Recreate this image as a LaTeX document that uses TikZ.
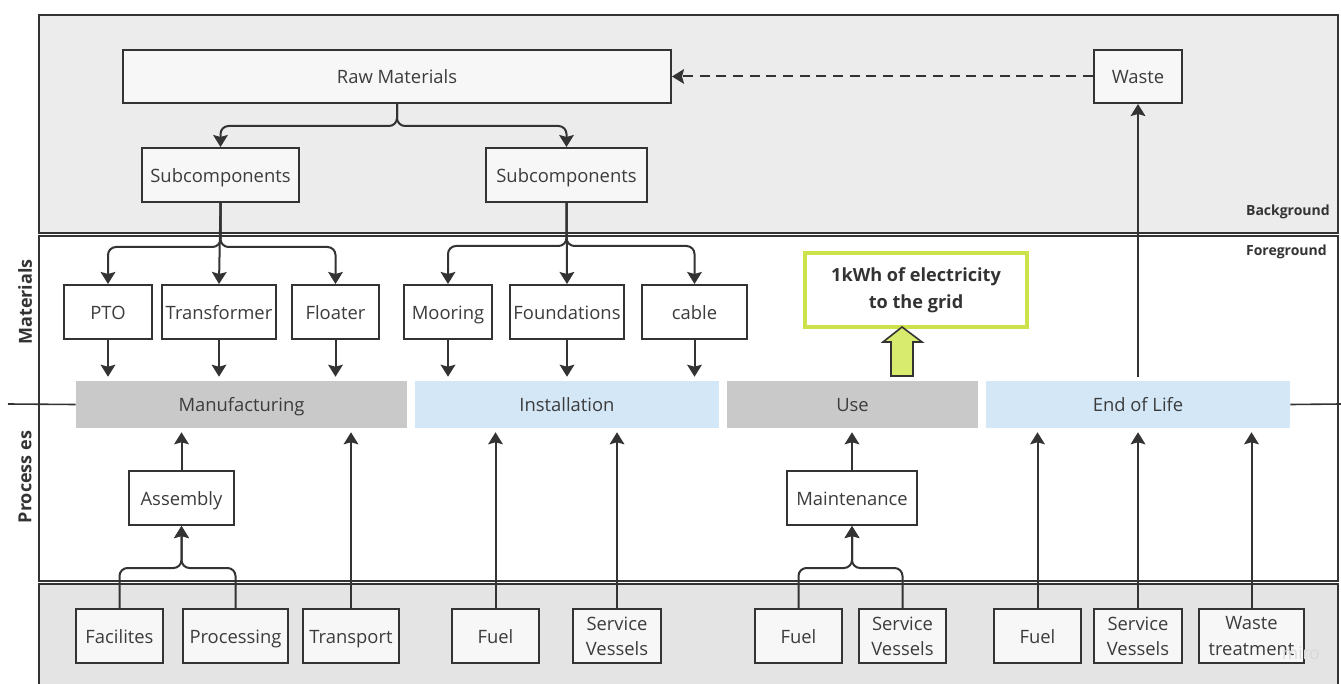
\documentclass[tikz,border=0pt]{standalone}
\usepackage{fontspec}
\setmainfont{Open Sans}
\usetikzlibrary{arrows.meta,positioning,calc}
\definecolor{bgGray}{HTML}{ECECEC}
\definecolor{botGray}{HTML}{E4E4E4}
\definecolor{boxFill}{HTML}{F7F7F7}
\definecolor{lineCol}{HTML}{333333}
\definecolor{txtCol}{HTML}{3C3C3C}
\definecolor{procGray}{HTML}{C9C9C9}
\definecolor{procBlue}{HTML}{D4E7F7}
\definecolor{limeLine}{HTML}{CDE14A}
\definecolor{limeFill}{HTML}{D9EB6F}
\tikzset{
  wh/.style 2 args={minimum width=#1*0.75pt, minimum height=#2*0.75pt},
  boxbase/.style={draw=lineCol, line width=1.5pt, fill=boxFill, inner sep=0pt, text=txtCol, align=center},
  gbox/.style={boxbase, font=\fontsize{13.8}{16}\selectfont, text height=12pt, text depth=1pt},
  wbox/.style={gbox, fill=white},
  twobox/.style={boxbase, font=\fontsize{13.8}{19}\selectfont},
  procbar/.style={draw=none, inner sep=0pt, text=txtCol, font=\fontsize{13.8}{16}\selectfont, text height=12pt, text depth=1pt},
  arr/.style={draw=lineCol, line width=1.5pt, -{Stealth[length=9pt,width=11pt,inset=1.5pt]}},
  lbl/.style={font=\bfseries\fontsize{10.5}{12}\selectfont, text=lineCol, inner sep=0pt},
  sidelbl/.style={font=\bfseries\fontsize{13.5}{16}\selectfont, text=lineCol, rotate=90, inner sep=0pt},
}
\begin{document}
\begin{tikzpicture}[x=0.75pt,y=-0.75pt]
\useasboundingbox (0,0) rectangle (1341,684);
\clip (0,0) rectangle (1341,684);
% bands
\fill[white] (0,0) rectangle (1341,684);
\draw[draw=lineCol, line width=1.8pt, fill=bgGray] (39,15) rectangle (1338,233);
\draw[draw=lineCol, line width=1.8pt, fill=white] (39,236) rectangle (1338,581);
\draw[draw=lineCol, line width=1.8pt, fill=botGray] (39,584) rectangle (1338,720);
% labels
\node[lbl, anchor=east] (bglbl) at (1330,212) {Background};
\node[lbl, anchor=east] (fglbl) at (1327,252) {Foreground};
\node[sidelbl] (matlbl) at (25,302) {Materials};
\node[sidelbl] (proclbl) at (25,477) {Process es};
% background nodes
\node[gbox, wh={548}{53}] (raw) at (397,76.5) {Raw Materials};
\node[gbox, wh={88}{53}] (waste) at (1138,76.5) {Waste};
\node[gbox, wh={157}{54}] (sub1) at (220.5,175) {Subcomponents};
\node[gbox, wh={161}{54}] (sub2) at (566.5,175) {Subcomponents};
% material row
\node[wbox, wh={88}{54}] (pto) at (108,312) {PTO};
\node[wbox, wh={114}{54}] (trans) at (219,312) {Transformer};
\node[wbox, wh={87}{54}] (floater) at (335.5,312) {Floater};
\node[wbox, wh={88}{54}] (mooring) at (448,312) {Mooring};
\node[wbox, wh={114}{54}] (found) at (567,312) {Foundations};
\node[wbox, wh={105}{54}] (cable) at (694.5,312) {cable};
% process bars
\node[procbar, fill=procGray, wh={331}{47}] (manu) at (241.5,404.5) {Manufacturing};
\node[procbar, fill=procBlue, wh={304}{47}] (inst) at (567,404.5) {Installation};
\node[procbar, fill=procGray, wh={251}{47}] (use) at (852.5,404.5) {Use};
\node[procbar, fill=procBlue, wh={304}{47}] (eol) at (1138,404.5) {End of Life};
% grid box
\node[draw=limeLine, line width=2.3pt, fill=white, wh={222}{74}, inner sep=0pt, align=center, text=lineCol, font=\bfseries\fontsize{13.6}{20}\selectfont] (grid) at (916,290) {\raisebox{-2.5pt}{1kWh of electricity}\\\raisebox{-2.5pt}{to the grid}};
% process inputs
\node[wbox, wh={105}{54}] (assembly) at (181.5,498) {Assembly};
\node[wbox, wh={130}{54}] (maint) at (852,498) {Maintenance};
\node[gbox, wh={87}{54}] (fac) at (119.5,636) {Facilites};
\node[gbox, wh={105}{54}] (proc) at (235.5,636) {Processing};
\node[gbox, wh={96}{54}] (transp) at (351,636) {Transport};
\node[gbox, wh={87}{54}] (fuel1) at (495.5,636) {Fuel};
\node[twobox, wh={88}{54}] (sv1) at (617,636) {Service\\Vessels};
\node[gbox, wh={87}{54}] (fuel2) at (798.5,636) {Fuel};
\node[twobox, wh={87}{54}] (sv2) at (902.5,636) {Service\\Vessels};
\node[gbox, wh={87}{54}] (fuel3) at (1037.5,636) {Fuel};
\node[twobox, wh={88}{54}] (sv3) at (1138,636) {Service\\Vessels};
\node[twobox, wh={105}{54}] (wt) at (1251.5,636) {Waste\\treatment};
% watermark
\node[text=gray!30, font=\fontsize{13}{15}\selectfont, inner sep=0pt] (miro) at (1301,653) {miro};
% side lines
\coordinate (lend) at (8,404);
\coordinate (rend) at (1341,404);
\draw[draw=lineCol, line width=1.2pt] (lend) -- (manu.west);
\draw[draw=lineCol, line width=1.2pt] (eol.east) -- (rend);
% dashed feedback
\draw[arr, dash pattern=on 7.5pt off 5pt] (waste.west) -- (raw.east);
% raw -> subcomponents
\draw[arr, rounded corners=6pt] (raw.south) -- (397,126) -| (sub1.north);
\draw[arr, rounded corners=6pt] (raw.south) -- (397,126) -| (sub2.north);
% subcomponents -> materials
\draw[arr, rounded corners=6pt] (sub1.south) -- (220.5,247) -| (pto.north);
\draw[arr] (sub1.south) -- (trans.north);
\draw[arr, rounded corners=6pt] (sub1.south) -- (220.5,247) -| (floater.north);
\draw[arr, rounded corners=6pt] (sub2.south) -- (566.5,246) -| (mooring.north);
\draw[arr] (sub2.south) -- (found.north);
\draw[arr, rounded corners=6pt] (sub2.south) -- (566.5,246) -| (cable.north);
% materials -> process bars
\foreach \m/\b in {pto/manu, trans/manu, floater/manu, mooring/inst, found/inst, cable/inst}
  \draw[arr, shorten >=3pt] (\m.south) -- (\m.south |- \b.north);
% EoL -> waste
\draw[arr] ($(eol.north)+(0,-4)$) -- (waste.south);
% green block arrow
\draw[draw=lineCol, line width=1.2pt, fill=limeFill] (891,376) -- (891,342) -- (883,342) -- (902,327) -- (922,342) -- (913,342) -- (913,376) -- cycle;
% bottom inputs
\draw[arr, shorten >=3pt] (assembly.north) -- (assembly.north |- manu.south);
\draw[arr, shorten >=3pt] (transp.north) -- (transp.north |- manu.south);
\draw[arr, rounded corners=6pt] (fac.north) |- (181.5,568) -- (assembly.south);
\draw[arr, rounded corners=6pt] (proc.north) |- (181.5,568) -- (assembly.south);
\draw[arr, shorten >=3pt] (fuel1.north) -- (fuel1.north |- inst.south);
\draw[arr, shorten >=3pt] (sv1.north) -- (sv1.north |- inst.south);
\draw[arr, shorten >=3pt] (maint.north) -- (maint.north |- use.south);
\draw[arr, rounded corners=6pt] (fuel2.north) |- (852,568) -- (maint.south);
\draw[arr, rounded corners=6pt] (sv2.north) |- (852,568) -- (maint.south);
\draw[arr, shorten >=3pt] (fuel3.north) -- (fuel3.north |- eol.south);
\draw[arr, shorten >=3pt] (sv3.north) -- (sv3.north |- eol.south);
\draw[arr, shorten >=3pt] (wt.north) -- (wt.north |- eol.south);
\end{tikzpicture}
\end{document}
